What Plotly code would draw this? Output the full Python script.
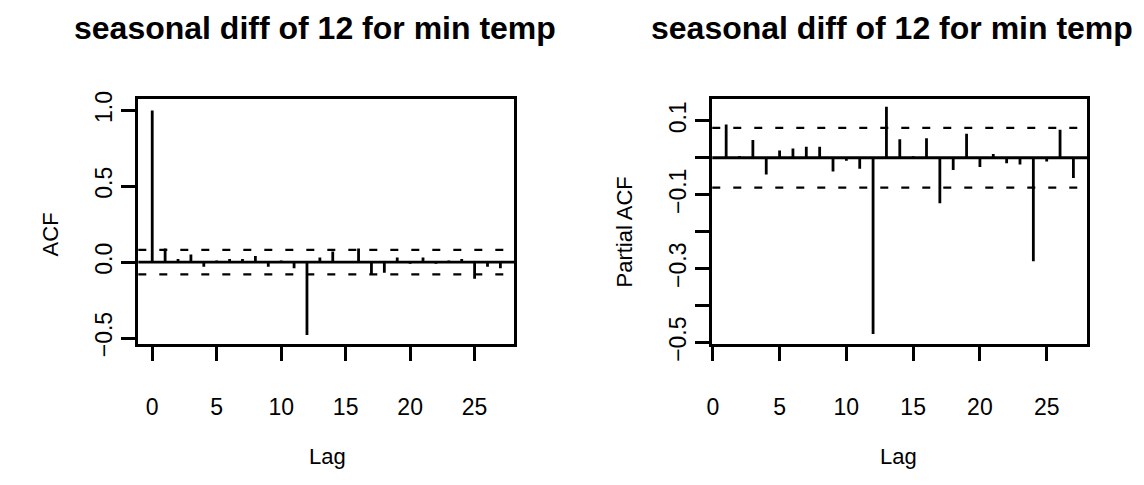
import plotly.graph_objects as go

# Sample autocorrelations of the seasonally differenced (lag 12) min-temperature series
acf_lags = list(range(0, 28))
acf_values = [1.0, 0.09, 0.02, 0.05, -0.03, 0.01, 0.02, 0.02, 0.04, -0.03,
              0.01, -0.04, -0.48, 0.03, 0.07, 0.0, 0.09, -0.08, -0.07, 0.03,
              -0.01, 0.03, -0.01, 0.01, 0.02, -0.11, -0.03, -0.04]

# Partial autocorrelations of the same series
pacf_lags = list(range(1, 28))
pacf_values = [0.09, 0.005, 0.048, -0.045, 0.02, 0.025, 0.03, 0.03, -0.037,
               -0.008, -0.03, -0.477, 0.138, 0.05, 0.004, 0.053, -0.123,
               -0.033, 0.065, -0.025, 0.01, -0.015, -0.018, -0.28, -0.01,
               0.076, -0.055]

# 95% white-noise band
conf_limit = 0.081

plot_title = "seasonal diff of 12 for min temp"
x_ticks = [0, 5, 10, 15, 20, 25]
acf_yticks = [-0.5, 0.0, 0.5, 1.0]
acf_yticktext = ["\u22120.5", "0.0", "0.5", "1.0"]
pacf_yticks = [-0.5, -0.4, -0.3, -0.2, -0.1, 0.0, 0.1]
pacf_yticktext = ["\u22120.5", "", "\u22120.3", "", "\u22120.1", "", "0.1"]

W, H = 1144, 485
FONT = "Liberation Sans, Arial, Helvetica, sans-serif"


def stems(lags, vals):
    xs, ys = [], []
    for lag, v in zip(lags, vals):
        xs += [lag, lag, None]
        ys += [0, v, None]
    return xs, ys


def px_x(p):
    return p / W


def px_y(p):
    return 1 - p / H


fig = go.Figure()

ax, ay = stems(acf_lags, acf_values)
fig.add_trace(go.Scatter(x=ax, y=ay, mode="lines", xaxis="x", yaxis="y",
                         line=dict(color="black", width=2.8),
                         showlegend=False, hoverinfo="skip"))
px_, py_ = stems(pacf_lags, pacf_values)
fig.add_trace(go.Scatter(x=px_, y=py_, mode="lines", xaxis="x2", yaxis="y2",
                         line=dict(color="black", width=2.8),
                         showlegend=False, hoverinfo="skip"))

# zero line and confidence band in both panels
for xr, yr in (("x domain", "y"), ("x2 domain", "y2")):
    fig.add_shape(type="line", xref=xr, yref=yr, x0=0, x1=1, y0=0, y1=0,
                  line=dict(color="black", width=2.8))
    for c in (conf_limit, -conf_limit):
        fig.add_shape(type="line", xref=xr, yref=yr, x0=0, x1=1, y0=c, y1=c,
                      line=dict(color="black", width=2.2, dash="8px,13px"))

frame = dict(showline=True, linecolor="black", linewidth=3, mirror=True,
             showgrid=False, zeroline=False, ticks="outside", ticklen=14,
             tickwidth=2.5, tickcolor="black",
             tickfont=dict(family=FONT, size=23, color="black"))

y_top, y_bot = px_y(97), px_y(355)

fig.update_layout(
    width=W, height=H, autosize=False,
    margin=dict(l=0, r=0, t=0, b=0),
    paper_bgcolor="white", plot_bgcolor="white",
    xaxis=dict(domain=[px_x(133), px_x(511)], range=[-1.08, 28.08],
               tickvals=x_ticks, ticklabelstandoff=27, anchor="y", **frame),
    yaxis=dict(domain=[y_bot, y_top], range=[-0.5375, 1.075],
               tickvals=acf_yticks, ticktext=acf_yticktext, tickangle=-90,
               ticklabelstandoff=0, anchor="x", **frame),
    xaxis2=dict(domain=[px_x(710), px_x(1087)], range=[-0.04, 28.04],
                tickvals=x_ticks, ticklabelstandoff=27, anchor="y2", **frame),
    yaxis2=dict(domain=[y_bot, y_top], range=[-0.503, 0.159],
                tickvals=pacf_yticks, ticktext=pacf_yticktext, tickangle=-90,
                ticklabelstandoff=0, anchor="x2", **frame),
)

ann_font = dict(family=FONT, size=22, color="black")
title_font = dict(family=FONT, size=32, color="black")
texts = [
    (311, 22, "<b>" + plot_title + "</b>", title_font, 0),
    (891, 22, "<b>" + plot_title + "</b>", title_font, 0),
    (323, 474, "Lag", ann_font, 0),
    (897, 474, "Lag", ann_font, 0),
    (45, 240, "ACF", ann_font, -90),
    (622, 237, "Partial ACF", ann_font, -90),
]
for x, y, t, f, ang in texts:
    fig.add_annotation(x=px_x(x), y=px_y(y), xref="paper", yref="paper",
                       text=t, showarrow=False, font=f, textangle=ang,
                       xanchor="center", yanchor="middle")

fig.write_html("out.html")
